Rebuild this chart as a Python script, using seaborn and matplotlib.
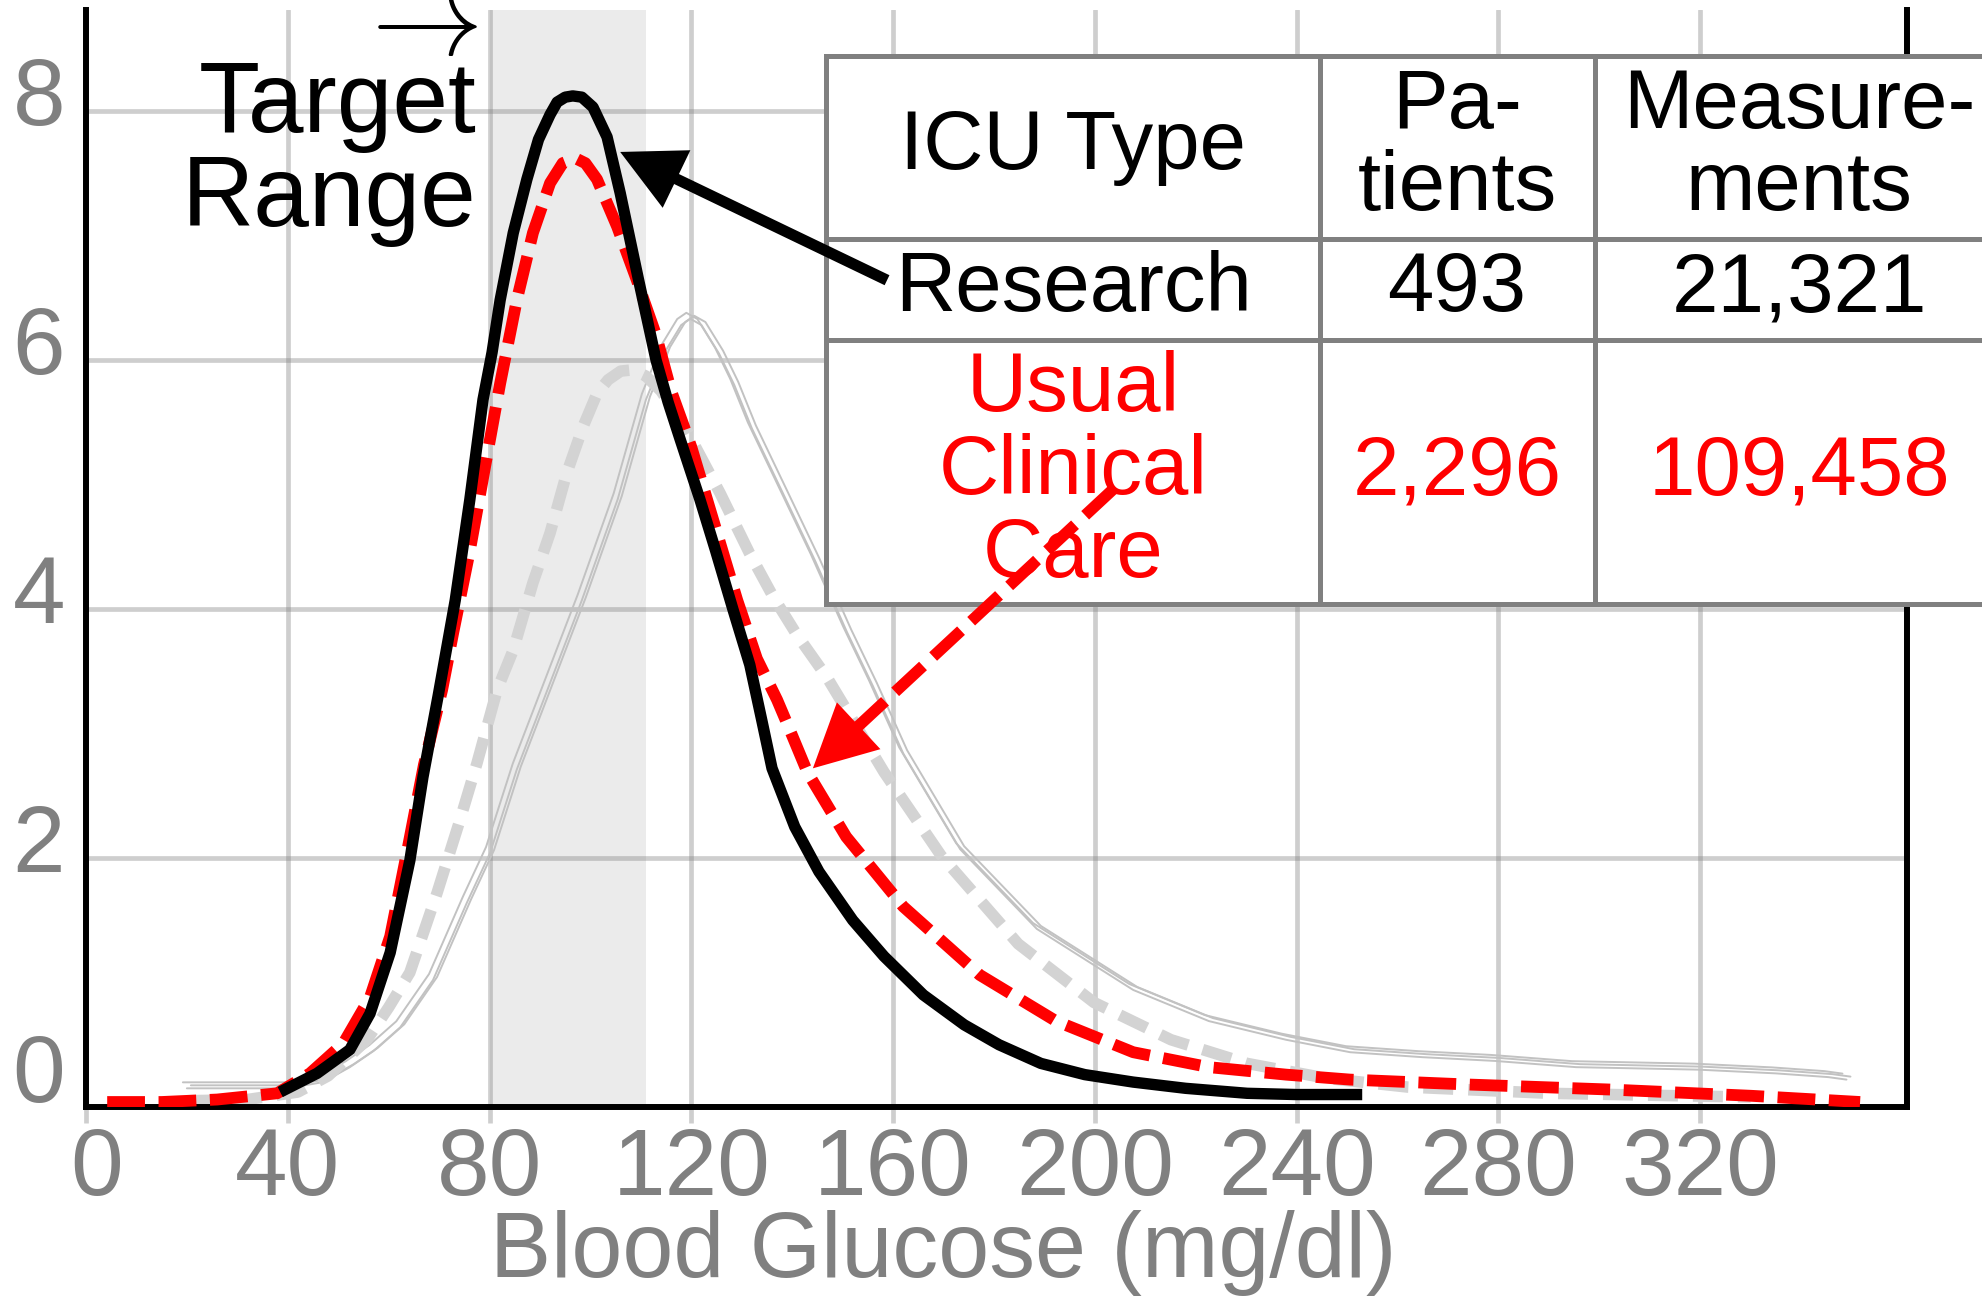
import matplotlib
matplotlib.use("Agg")
import matplotlib.pyplot as plt
import matplotlib.transforms as mtransforms
from matplotlib.patches import FancyArrowPatch, Rectangle
from matplotlib.lines import Line2D
import seaborn as sns

# ---------------- data ----------------
research_x = [38.5, 45.8, 52.3, 56.3, 60.3, 64.2, 66.8, 69.8, 73.2, 76.1, 78.7, 80.5, 82.1, 84.7,
              87.4, 89.7, 92.0, 93.4, 95.0, 96.5, 98.3, 100.5, 103.3, 105.9, 109.5, 113.0, 115.4,
              117.8, 121.7, 124.8, 128.3, 131.6, 134.0, 136.0, 140.5, 145.3, 152.0, 158.2, 166.0,
              174.1, 181.0, 189.3, 198.0, 207.6, 218.0, 230.2, 240.0, 253.0]
research_y = [0.12, 0.27, 0.46, 0.75, 1.24, 1.98, 2.65, 3.30, 4.07, 4.88, 5.68, 6.06, 6.48, 7.02,
              7.45, 7.77, 7.97, 8.07, 8.11, 8.12, 8.11, 8.03, 7.79, 7.34, 6.65, 6.00, 5.66,
              5.36, 4.88, 4.47, 3.99, 3.55, 3.10, 2.72, 2.25, 1.89, 1.50, 1.21, 0.90,
              0.66, 0.50, 0.35, 0.26, 0.20, 0.15, 0.11, 0.10, 0.10]

usual_x = [4.2, 15.0, 26.0, 37.9, 44.4, 51.0, 56.3, 60.3, 63.6, 67.0, 70.6, 72.8, 76.1, 79.1,
           82.1, 85.4, 88.6, 92.0, 94.5, 97.0, 99.0, 101.3, 105.3, 109.2, 113.0, 116.0, 120.0,
           123.7, 129.1, 133.0, 137.0, 139.2, 143.0, 150.7, 162.0, 177.2, 192.3, 207.6, 222.6,
           237.9, 250.6, 274.4, 302.3, 330.1, 351.7]
usual_y = [0.04, 0.04, 0.06, 0.11, 0.27, 0.51, 0.88, 1.37, 2.04, 2.75, 3.35, 3.81, 4.47, 5.14,
           5.81, 6.48, 7.02, 7.42, 7.58, 7.62, 7.58, 7.45, 7.07, 6.64, 6.20, 5.75, 5.30,
           4.80, 4.07, 3.60, 3.27, 3.06, 2.69, 2.17, 1.61, 1.06, 0.69, 0.44, 0.32,
           0.26, 0.22, 0.18, 0.14, 0.09, 0.04]

other_dashed_x = [20, 32, 42, 48, 55.7, 60, 64.2, 69.6, 74.1, 77.5, 81.5, 84.7, 88.6, 92.0, 95.3,
                  98.5, 101.3, 103.5, 106, 108.4, 111, 114, 119.4, 125.7, 131.5, 136.2, 140.8,
                  146.9, 158.2, 169.5, 184.8, 199.8, 215.1, 230.2, 246, 262, 290, 316, 330]
other_dashed_y = [0.05, 0.06, 0.12, 0.25, 0.54, 0.80, 1.08, 1.72, 2.30, 2.76, 3.35, 3.67, 4.21, 4.61,
                  5.09, 5.46, 5.73, 5.84, 5.91, 5.92, 5.87, 5.75, 5.41, 4.93, 4.45, 4.10, 3.80,
                  3.45, 2.69, 2.02, 1.31, 0.84, 0.54, 0.35, 0.23, 0.16, 0.11, 0.09, 0.08]

other_thin_x = [20, 30, 40, 47, 52.3, 57, 62.3, 68.8, 75.5, 80.1, 85.4, 91.0, 98.3, 105.4, 111.0,
                115.0, 118.0, 119.8, 122.0, 125.5, 128.5, 132.0, 138.5, 144.5, 150.9, 156, 162.0,
                173.3, 188.5, 207.6, 222.6, 237.9, 250.6, 265, 279.3, 295.4, 319.6, 335, 345.4, 349]
other_thin_y = [0.15, 0.15, 0.15, 0.20, 0.32, 0.45, 0.64, 1.02, 1.64, 2.04, 2.71, 3.30, 4.07, 4.88,
                5.68, 6.08, 6.28, 6.33, 6.28, 6.05, 5.80, 5.45, 4.90, 4.39, 3.81, 3.38, 2.84,
                2.07, 1.43, 0.94, 0.69, 0.54, 0.44, 0.40, 0.37, 0.32, 0.30, 0.27, 0.24, 0.22]

x_ticks = [0, 40, 80, 120, 160, 200, 240, 280, 320]
y_ticks = [0, 2, 4, 6, 8]
target_range = [80, 111]
x_label = "Blood Glucose (mg/dl)"
target_arrow = r"$\rightarrow$"
target_label = "Target\nRange"

table_header = ["ICU Type", "Pa-\ntients", "Measure-\nments"]
table_research = ["Research", "493", "21,321"]
table_usual = ["Usual\nClinical\nCare", "2,296", "109,458"]

# ---------------- style ----------------
sns.set_theme(style="white")
plt.rcParams["font.family"] = ["Liberation Sans", "DejaVu Sans"]

W, H = 1982, 1296
fig = plt.figure(figsize=(W / 100, H / 100), dpi=100)
ax = fig.add_axes([86 / W, 1 - 1107 / H, (1907 - 86) / W, (1107 - 10) / H])

GRAY_TXT = "#808080"
ax.axvspan(target_range[0], target_range[1], color="#ebebeb", lw=0, zorder=0)

# thin reference lines (three strokes drawn slightly apart)
for dx, dy in [(-4, 6), (0, 0), (4, 3)]:
    tr = mtransforms.offset_copy(ax.transData, fig=fig, x=dx, y=dy, units="dots")
    sns.lineplot(x=other_thin_x, y=other_thin_y, ax=ax, color="#c2c2c2", linewidth=1.4,
                 sort=False, estimator=None, transform=tr, zorder=1.5)

sns.lineplot(x=other_dashed_x, y=other_dashed_y, ax=ax, color="#d3d3d3", linewidth=8.3,
             linestyle=(0, (2.6, 1.3)), dash_capstyle="butt", sort=False, estimator=None, zorder=2)
sns.lineplot(x=usual_x, y=usual_y, ax=ax, color="#ff0000", linewidth=8.5,
             linestyle=(0, (3.2, 1.15)), dash_capstyle="butt", sort=False, estimator=None, zorder=3)
sns.lineplot(x=research_x, y=research_y, ax=ax, color="black", linewidth=8.2,
             solid_capstyle="butt", sort=False, estimator=None, zorder=4)

ax.set_xlim(0, 361)
ax.set_ylim(0, 8.81)
ax.set_xticks(x_ticks)
ax.set_yticks(y_ticks)
ax.set_axisbelow(True)
ax.grid(True, color="#808080", alpha=0.38, linewidth=3.4)
ax.tick_params(axis="x", length=11.5, width=3.4, color=(0.5, 0.5, 0.5, 0.38),
               bottom=True, labelbottom=False)
ax.tick_params(axis="y", length=0, left=False, labelleft=False)
for s in ["left", "right", "bottom"]:
    ax.spines[s].set_color("black")
    ax.spines[s].set_linewidth(4.3)
    ax.spines[s].set_zorder(2.5)
ax.spines["top"].set_visible(False)

# tick labels
for v in x_ticks:
    ax.annotate(str(v), xy=(v, 0), xycoords=("data", "axes fraction"),
                xytext=(8 if v == 0 else 0, -63), textcoords="offset points",
                ha="center", va="baseline", fontsize=68, color=GRAY_TXT, annotation_clip=False)
for v in y_ticks:
    ax.annotate(str(v), xy=(0, v), xycoords=("axes fraction", "data"),
                xytext=(-15, 3.6 if v == 0 else -10), textcoords="offset points",
                ha="right", va="baseline", fontsize=68, color=GRAY_TXT, annotation_clip=False)

ax.set_xlabel(x_label, fontsize=66, color=GRAY_TXT, va="baseline")
ax.xaxis.set_label_coords((943 - 86) / (1907 - 86), (1107 - 1277) / (1107 - 10))
ax.set_ylabel("")

ax.text(77.5, 6.91, target_label, ha="right", va="bottom", fontsize=72,
        linespacing=1.0, color="black", zorder=6)
ax.text(77.8, 8.68, target_arrow, ha="right", va="center", fontsize=80,
        math_fontfamily="cm", color="black", zorder=6)

# ---------------- table ----------------
T = fig.transFigure
def fx(px):
    return px / W
def fy(py):
    return 1 - py / H

col_edges = [826, 1320, 1595, 2003]
row_edges = [55.5, 239, 340, 604]
col_centers = [1073, 1457, 1799]
row_centers = [147, 289, 472]
BORDER = "#808080"

ax.add_patch(Rectangle((fx(col_edges[0]), fy(row_edges[-1])),
                       fx(col_edges[-1]) - fx(col_edges[0]), fy(row_edges[0]) - fy(row_edges[-1]),
                       transform=T, facecolor="white", edgecolor=BORDER, lw=3.6,
                       clip_on=False, zorder=7))
for c in col_edges[1:-1]:
    ax.add_line(Line2D([fx(c), fx(c)], [fy(row_edges[0]), fy(row_edges[-1])], transform=T,
                       color=BORDER, lw=3.6, clip_on=False, zorder=7.1))
for r in row_edges[1:-1]:
    ax.add_line(Line2D([fx(col_edges[0]), fx(col_edges[-1])], [fy(r), fy(r)], transform=T,
                       color=BORDER, lw=3.6, clip_on=False, zorder=7.1))

for row, yc, colr in zip([table_header, table_research, table_usual], row_centers,
                         ["black", "black", "#ff0000"]):
    for txt, xc in zip(row, col_centers):
        ax.text(fx(xc), fy(yc), txt, transform=T, ha="center", va="center", fontsize=60,
                linespacing=1.08, color=colr, zorder=8, clip_on=False)

# ---------------- arrows ----------------
def arrow(tail, tip, color, lw, ls):
    shaft = FancyArrowPatch(tail, tip, arrowstyle="-", shrinkA=0, shrinkB=38, lw=lw,
                            linestyle=ls, color=color, capstyle="butt", zorder=10, clip_on=False)
    head = FancyArrowPatch(tail, tip, arrowstyle="-|>,head_length=45,head_width=23",
                           mutation_scale=1, shrinkA=0, shrinkB=0, lw=0, color=color,
                           zorder=11, clip_on=False)
    ax.add_patch(shaft)
    ax.add_patch(head)

arrow((158.8, 6.64), (105.9, 7.67), "black", 8.0, "-")
arrow((203.6, 4.96), (144.1, 2.72), "#ff0000", 8.3, (0, (3.3, 1.2)))

fig.savefig("out.png", dpi=100)
